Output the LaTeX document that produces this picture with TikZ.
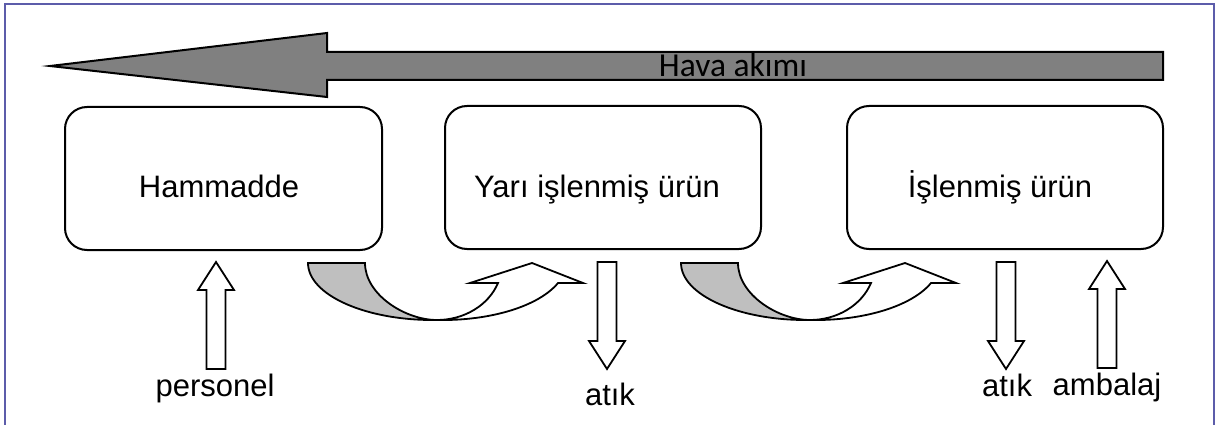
\documentclass[tikz,border=0pt]{standalone}
\usepackage{fontspec}
\setmainfont{Liberation Sans}
\newfontfamily\carlitofont{Carlito}
\definecolor{framecol}{RGB}{92,92,170}
\definecolor{airgray}{RGB}{128,128,128}
\definecolor{backgray}{RGB}{191,191,191}
\tikzset{
  procbox/.style={draw=black, line width=2pt, rounded corners=22pt, fill=white,
    minimum width=316pt, minimum height=143pt, inner sep=0pt},
  boxtext/.style={anchor=base, inner sep=0pt, font=\fontsize{31}{36}\selectfont},
  lbltext/.style={anchor=base, inner sep=0pt, font=\fontsize{31}{36}\selectfont},
  blockarrow/.style={draw=black, line width=1.8pt, fill=white, line join=miter},
  blockarrowpic/.pic={
    \draw[blockarrow] (0,0) -- (18,28) -- (9.5,28) -- (9.5,107) -- (-9.5,107)
      -- (-9.5,28) -- (-18,28) -- cycle;
  },
  curvedarrowpic/.pic={
    % shaded back face
    \draw[line width=1.8pt, fill=backgray, line join=miter]
      (0,0) -- (57,0)
      .. controls (57,31.5) and (97,57) .. (129,57)
      .. controls (58,58) and (0,32) .. cycle;
    % front face
    \draw[line width=1.8pt, fill=white, line join=miter]
      (129,57) .. controls (183,58) and (231,43) .. (250,20)
      -- (275,20) -- (224,0) -- (162,20) -- (190,20)
      .. controls (180.5,42.4) and (156,57) .. cycle;
  }
}
\begin{document}
\begin{tikzpicture}[x=1pt, y=-1pt]
\useasboundingbox (0,0) rectangle (1217,425);

% frame
\draw[framecol, line width=2pt] (4.5,426) -- (4.5,4) -- (1213.5,4) -- (1213.5,426);

% air flow arrow
\draw[line width=2pt, fill=airgray, line join=miter]
  (50,66) -- (327,33) -- (327,52) -- (1163,52) -- (1163,80) -- (327,80) -- (327,97) -- cycle;
\node[anchor=base, inner sep=0pt, font=\carlitofont\fontsize{33.5}{38}\selectfont] (air) at (733,77) {Hava akımı};

% process boxes
\node[procbox, minimum width=317pt] (b1) at (223.5,178.5) {};
\node[procbox] (b2) at (603,177.5) {};
\node[procbox] (b3) at (1005,177.5) {};
\node[boxtext] (t1) at (219,197) {Hammadde};
\node[boxtext] (t2) at (597,197) {Yarı işlenmiş ürün};
\node[boxtext] (t3) at (1000,197) {İşlenmiş ürün};

% curved transfer arrows
\pic at (308,263) {curvedarrowpic};
\pic at (681,263) {curvedarrowpic};

% straight block arrows
\pic at (216,262) {blockarrowpic};
\pic[yscale=-1] at (607,369) {blockarrowpic};
\pic[yscale=-1] at (1006,369) {blockarrowpic};
\pic at (1107,261) {blockarrowpic};

% labels
\node[lbltext] (l1) at (215,396) {personel};
\node[lbltext] (l2) at (610,405) {atık};
\node[lbltext] (l3) at (1007,396) {atık};
\node[lbltext] (l4) at (1107,395) {ambalaj};
\end{tikzpicture}
\end{document}
